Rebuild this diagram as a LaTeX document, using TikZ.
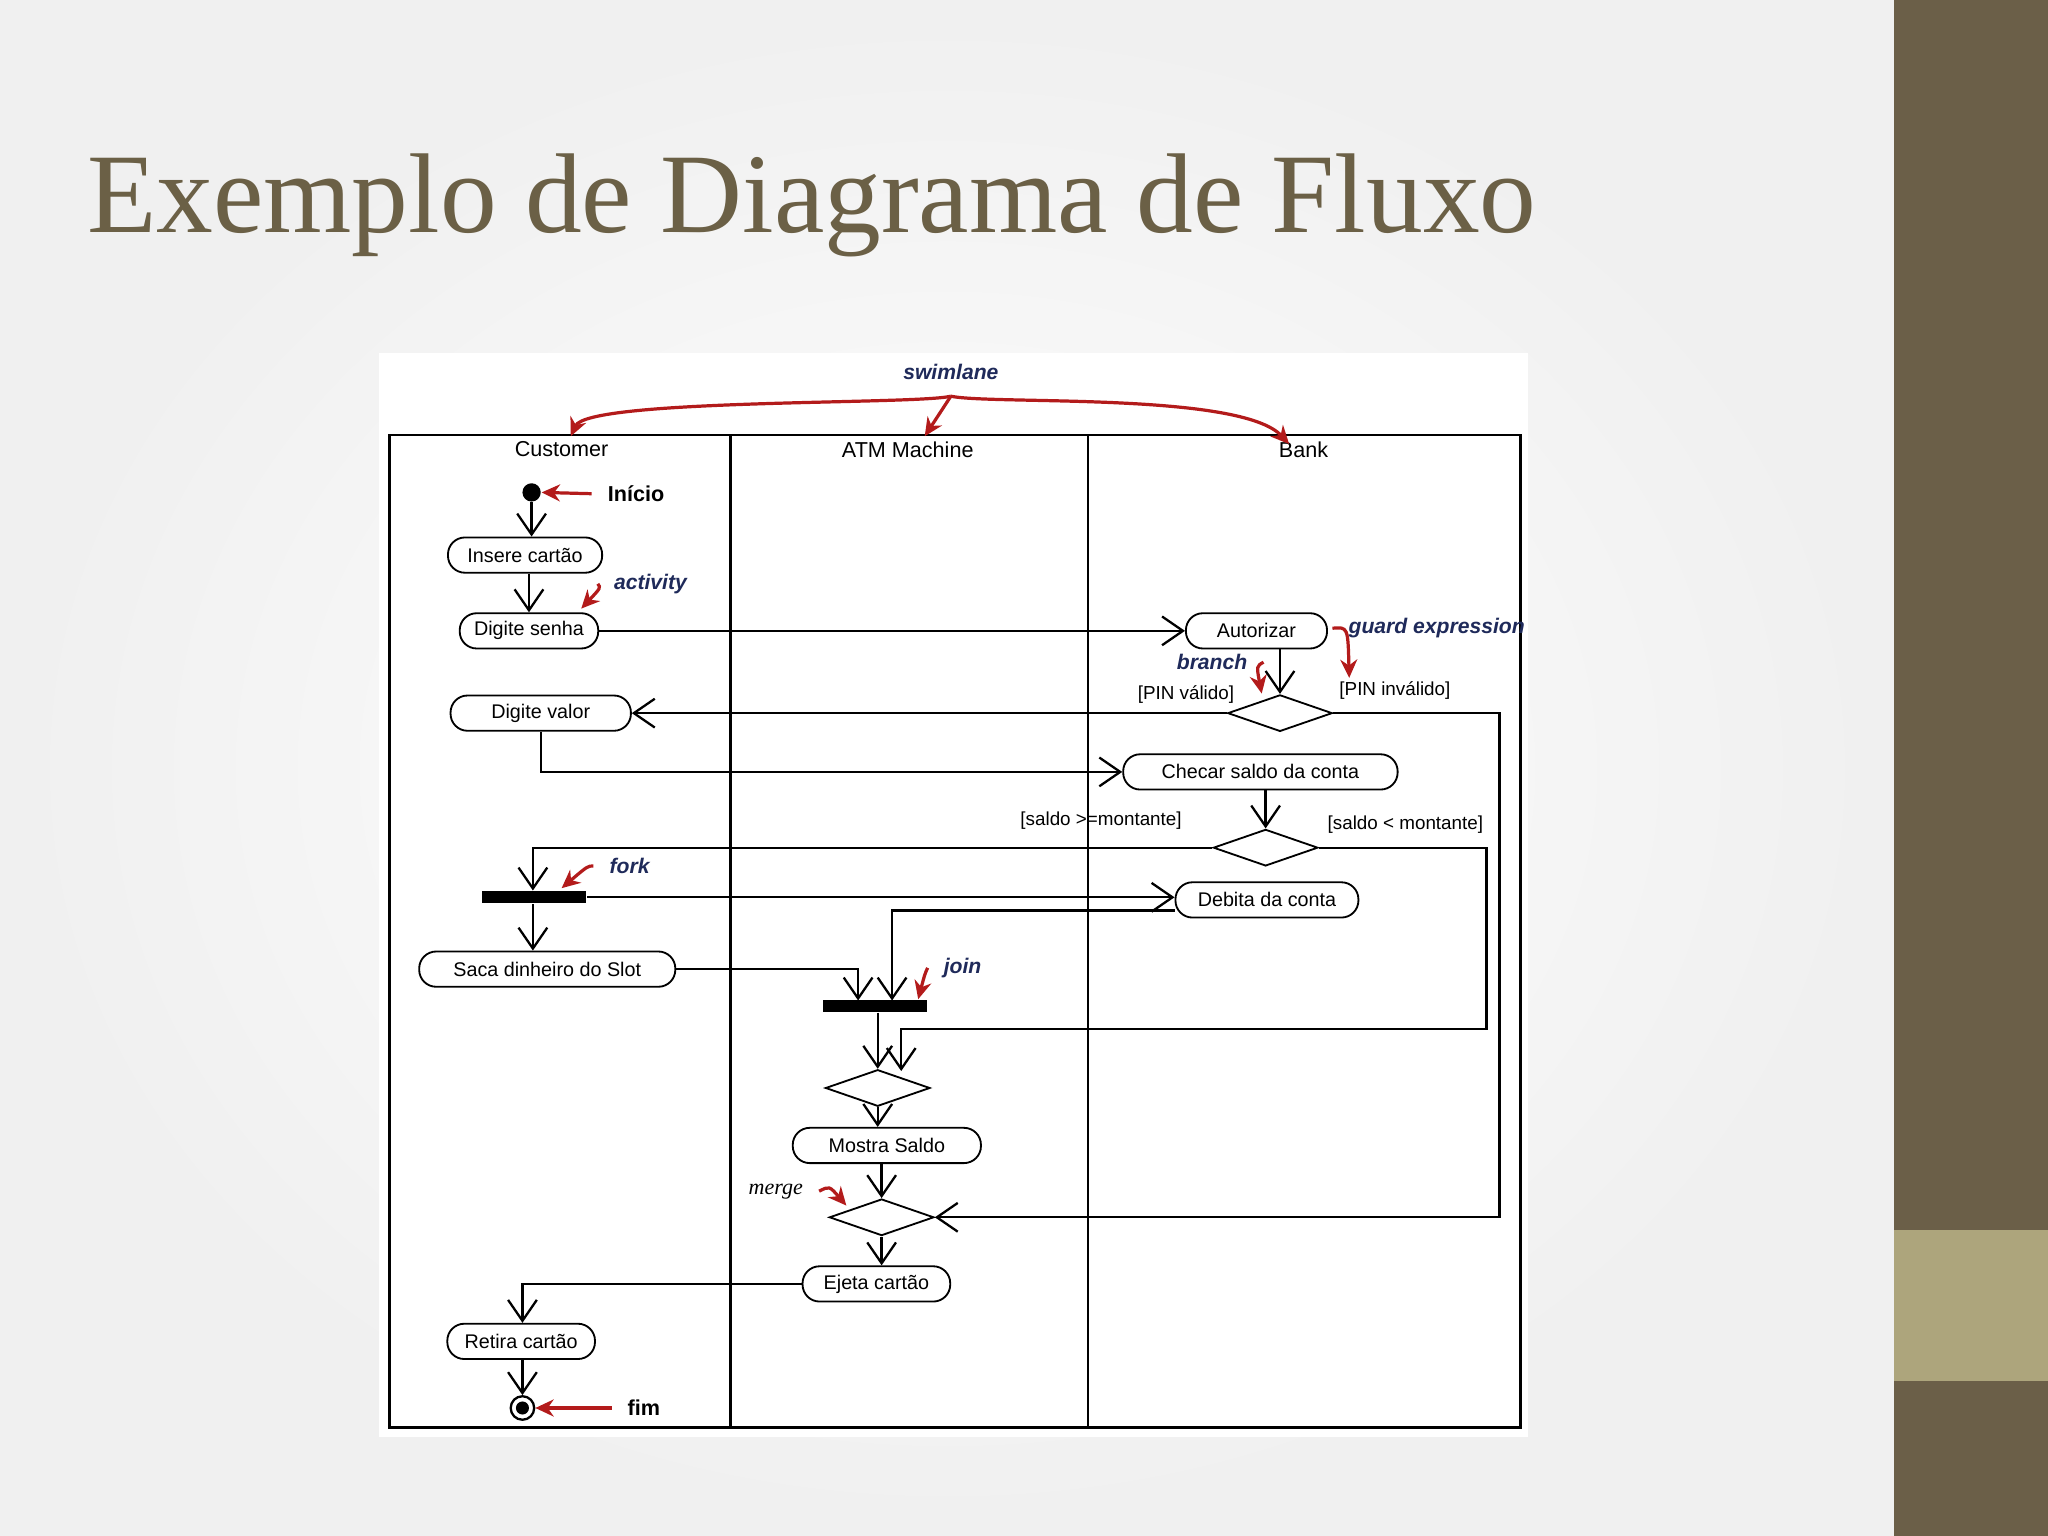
\documentclass[tikz,border=0pt]{standalone}
\usepackage{fontspec}
\setmainfont{Liberation Serif}
\setsansfont{Liberation Sans}
\usetikzlibrary{arrows.meta,shapes.geometric}
\definecolor{band}{HTML}{6B5F48}
\definecolor{bandlight}{HTML}{ADA57C}
\definecolor{ttl}{HTML}{6B6046}
\definecolor{navy}{HTML}{1F2A5A}
\definecolor{redarr}{HTML}{B31B1B}
\begin{document}
\begin{tikzpicture}[x=0.01cm,y=-0.01cm,
  act/.style={draw,fill=white,rounded corners=1.3mm,minimum height=0.27cm,inner sep=0pt,font=\sffamily\fontsize{4.3}{5}\selectfont},
  dia/.style={draw,fill=white,diamond,aspect=2.9,minimum width=0.8cm,minimum height=0.28cm,inner sep=0pt},
  bar/.style={fill=black,minimum width=0.8cm,minimum height=0.09cm,inner sep=0pt},
  flow/.style={-{Straight Barb[length=1.6mm,width=2.2mm]},line width=0.5pt},
  ann/.style={-{Stealth[length=1.4mm,width=1.3mm]},redarr,line width=0.7pt},
  note/.style={font=\sffamily\bfseries\itshape\fontsize{4.6}{6}\selectfont,text=navy},
  grd/.style={font=\sffamily\fontsize{4.1}{5}\selectfont},
  lane/.style={font=\sffamily\fontsize{4.7}{6}\selectfont}]
\useasboundingbox (0,0) rectangle (1568,1176);
\shade[inner color=white,outer color=black!6] (0,0) rectangle (1450,1176);
\fill[band] (1450,0) rectangle (1568,1176);
\fill[bandlight] (1450,942) rectangle (1568,1057);
\node[anchor=base west,text=ttl,font=\fontsize{24.7}{30}\selectfont,inner sep=0pt] (title) at (66,178) {Exemplo de Diagrama de Fluxo};
% frame
\fill[white] (290,270) rectangle (1170,1100);
\draw[line width=0.6pt] (298,333) rectangle (1164,1093);
\draw[line width=0.6pt] (559,333) -- (559,1093);
\draw[line width=0.6pt] (833,333) -- (833,1093);
\node[lane] (lc) at (430,344) {Customer};
\node[lane] (la) at (695,344) {ATM Machine};
\node[lane] (lb) at (998,344) {Bank};
\node[note] (sw) at (728,285) {swimlane};
\coordinate (swc) at (437,334);
\coordinate (swa) at (708,334);
\coordinate (swb) at (987,340);
\draw[ann] (sw.south) .. controls (700,310) and (450,305) .. (swc);
\draw[ann] (sw.south) -- (swa);
\draw[ann] (sw.south) .. controls (760,310) and (950,300) .. (swb);
% nodes
\node[circle,fill=black,minimum size=0.14cm,inner sep=0pt] (ini) at (407,377) {};
\node[font=\sffamily\bfseries\fontsize{4.7}{6}\selectfont] (tini) at (487,378) {Início};
\draw[ann] (tini.west) -- (ini.east);
\node[act,minimum width=1.18cm] (ins) at (402,425) {Insere cartão};
\node[act,minimum width=1.06cm] (dsen) at (405,483) {Digite senha};
\node[note] (tact) at (498,447) {activity};
\draw[ann] (tact.west) .. controls (460,450) .. (445,466);
\node[act,minimum width=1.08cm] (aut) at (962,483) {Autorizar};
\node[dia] (d1) at (980,546) {};
\node[grd] (pv) at (908,532) {[PIN válido]};
\node[grd] (pi) at (1068,529) {[PIN inválido]};
\node[note] (tge) at (1100,481) {guard expression};
\draw[ann] (tge.west) .. controls (1032,480) .. (1033,519);
\node[note] (tbr) at (928,507) {branch};
\draw[ann] (tbr.east) .. controls (962,510) .. (966,531);
\node[act,minimum width=1.38cm] (dval) at (414,546) {Digite valor};
\node[act,minimum width=2.1cm] (chk) at (965,591) {Checar saldo da conta};
\node[dia] (d2) at (969,649) {};
\node[grd] (sg) at (843,628) {[saldo >=montante]};
\node[grd] (sl) at (1076,631) {[saldo < montante]};
\node[bar] (fork) at (409,687) {};
\node[note] (tfork) at (482,663) {fork};
\draw[ann] (tfork.west) .. controls (450,663) .. (430,680);
\node[act,minimum width=1.4cm] (deb) at (970,689) {Debita da conta};
\node[act,minimum width=1.96cm] (saca) at (419,742) {Saca dinheiro do Slot};
\node[bar] (join) at (670,770) {};
\node[note] (tjoin) at (737,741) {join};
\draw[ann] (tjoin.west) .. controls (708,746) .. (703,765);
\node[dia] (d3) at (672,833) {};
\node[act,minimum width=1.44cm] (most) at (679,877) {Mostra Saldo};
\node[dia] (mrg) at (675,932) {};
\node[font=\itshape\fontsize{4.8}{6}\selectfont] (tmrg) at (594,912) {merge};
\draw[ann] (tmrg.east) .. controls (635,908) .. (648,923);
\node[act,minimum width=1.13cm] (ej) at (671,983) {Ejeta cartão};
\node[act,minimum width=1.13cm] (ret) at (399,1027) {Retira cartão};
\node[circle,draw,line width=0.5pt,minimum size=0.18cm,inner sep=0pt] (fim) at (400,1078) {};
\node[circle,fill=black,minimum size=0.1cm,inner sep=0pt] (fimdot) at (fim) {};
\node[font=\sffamily\bfseries\fontsize{4.7}{6}\selectfont] (tfim) at (493,1078) {fim};
\draw[ann] (tfim.west) -- (fim.east);
% flows
\draw[flow] (ini) -- (ini |- ins.north);
\draw[flow] (ins.south -| 405,0) -- (dsen.north -| 405,0);
\draw[flow] (dsen.east) -- (aut.west);
\draw[flow] (aut.south -| 980,0) -- (d1.north);
\draw[flow] (d1.west) -- (d1.west -| dval.east);
\draw[flow] (d1.east) -- (d1.east -| 1148,0) -- (1148,932) -- (mrg.east);
\draw[flow] (dval.south -| 414,0) -- (414,591) -- (chk.west);
\draw[flow] (chk.south -| d2.north) -- (d2.north);
\draw[flow] (d2.west) -- (d2.west -| 408,0) -- (fork.north -| 408,0);
\draw[flow] (d2.east) -- (d2.east -| 1138,0) -- (1138,788) -- (690,788) -- (690,820);
\draw[flow] (fork.east) -- (fork.east -| deb.west);
\draw[flow] (fork.south -| 408,0) -- (saca.north -| 408,0);
\draw[flow] (deb.west |- 0,697) -- (683,697) -- (683,766);
\draw[flow] (saca.east) -- (657,742) -- (657,766);
\draw[flow] (join.south -| 672,0) -- (d3.north);
\draw[flow] (d3.south) -- (d3.south |- most.north);
\draw[flow] (most.south -| mrg.north) -- (mrg.north);
\draw[flow] (mrg.south) -- (mrg.south |- ej.north);
\draw[flow] (ej.west) -- (ej.west -| 400,0) -- (ret.north -| 400,0);
\draw[flow] (ret.south -| fim.north) -- (fim.north);
\end{tikzpicture}
\end{document}
